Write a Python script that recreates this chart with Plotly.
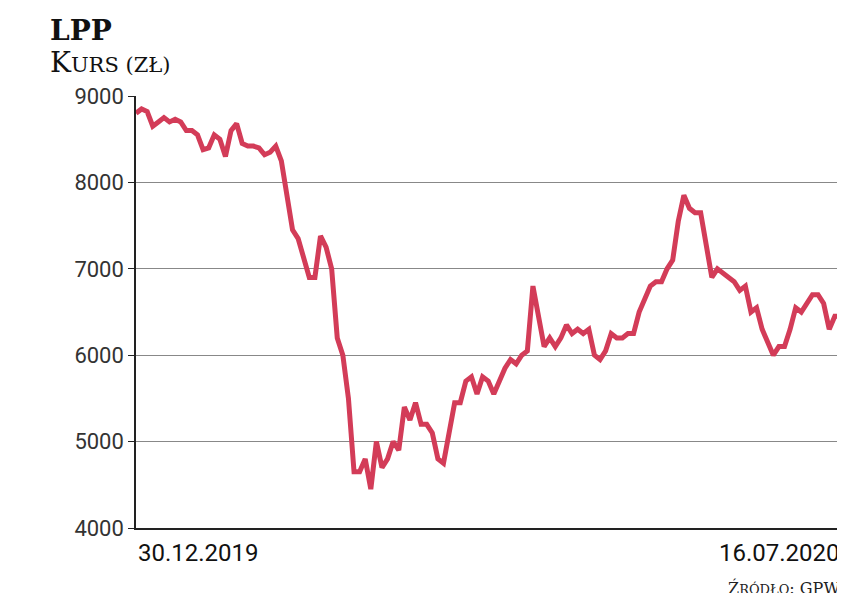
import plotly.graph_objects as go

values = [8800,8850,8820,8650,8700,8750,8700,8730,8700,8600,8600,8550,8380,8400,8550,8500,8300,8600,8680,8450,
8420,8420,8400,8320,8350,8420,8250,7800,7450,7350,7100,6900,6900,7380,7250,7000,6200,6000,5500,4650,
4650,4800,4450,5000,4700,4800,5000,4900,5400,5250,5450,5200,5200,5100,4800,4750,5100,5450,5450,5700,
5750,5550,5750,5700,5550,5700,5850,5950,5900,6000,6050,6800,6450,6100,6200,6100,6200,6350,6250,6300,
6250,6300,6000,5950,6050,6250,6200,6200,6250,6250,6500,6650,6800,6850,6850,7000,7100,7550,7850,7700,
7650,7650,7250,6900,7000,6950,6900,6850,6750,6800,6500,6550,6300,6150,6000,6100,6100,6300,6550,6500,
6600,6700,6700,6600,6300,6450,6450,6450]
date_labels = ["30.12.2019", "16.07.2020"]
y_ticks = [4000, 5000, 6000, 7000, 8000, 9000]

x = list(range(len(values)))
fig = go.Figure(go.Scatter(x=x, y=values, mode="lines",
                           line=dict(color="#d33c58", width=5), hoverinfo="skip"))
fig.update_layout(
    width=845, height=593, plot_bgcolor="white", paper_bgcolor="white",
    margin=dict(l=128, r=7, t=88, b=73, pad=0), showlegend=False,
    font=dict(family="Liberation Sans Narrow, Roboto, sans-serif", color="#222", size=22),
)
fig.update_xaxes(range=[0, len(values) - 1], showticklabels=False,
                 showgrid=False, showline=True, linecolor="#222", linewidth=1.5, ticks="")
fig.update_yaxes(range=[4000, 9000], tickvals=y_ticks, showgrid=True, gridcolor="#888", gridwidth=1,
                 showline=True, linecolor="#222", linewidth=1.5, ticks="outside", ticklen=6,
                 tickcolor="#222", zeroline=False,
                 tickfont=dict(size=22, color="#333"))
fig.add_annotation(xref="paper", yref="paper", x=0, y=-0.02, xanchor="left", yanchor="top",
                   text=date_labels[0], showarrow=False,
                   font=dict(size=24, color="#111"))
fig.add_annotation(xref="paper", yref="paper", x=0.995, y=-0.02, xanchor="right", yanchor="top",
                   text=date_labels[1], showarrow=False,
                   font=dict(size=24, color="#111"))
fig.add_annotation(xref="paper", yref="paper", x=-0.124, y=1.195, xanchor="left", yanchor="top",
                   text="<b>LPP</b>", showarrow=False,
                   font=dict(family="DejaVu Serif", size=28, color="#111"))
fig.add_annotation(xref="paper", yref="paper", x=-0.124, y=1.12, xanchor="left", yanchor="top",
                   text="K<span style='font-size:21px'>URS (ZŁ)</span>", showarrow=False,
                   font=dict(family="DejaVu Serif", size=28, color="#111"))
fig.add_annotation(xref="paper", yref="paper", x=0.995, y=-0.11, xanchor="right", yanchor="top",
                   text="Ź<span style='font-size:13px'>RÓDŁO</span>: GPW", showarrow=False,
                   font=dict(family="DejaVu Serif", size=16, color="#222"))
fig.write_html("out.html")
